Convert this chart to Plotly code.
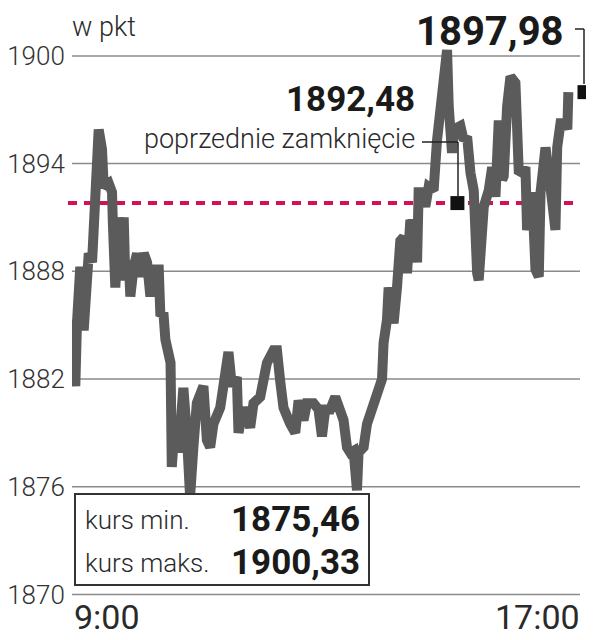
import plotly.graph_objects as go

# minutes after 9:00 and index value (points)
minutes = [0, 1, 3.2, 4.8, 8.0, 11.3, 12.6, 16.2, 19.4, 21.0, 22.6, 25.8, 29.0, 30.7, 35.5, 38.7,
           39.5, 41.9, 45.2, 48.4, 50.0, 51.6, 54.9, 56.4, 59.7, 62.9, 66.1, 69.4, 72.6, 75.8,
           77.4, 83.9, 85.5, 88.4, 90.3, 91.9, 95.3, 96.5, 99.7, 102.9, 107.7, 111.0, 114.2,
           117.4, 120.7, 127.1, 130.4, 133.6, 136.8, 143.3, 148.1, 151.3, 154.6, 159.4, 161.0,
           165.8, 172.3, 175.5, 182.0, 188.5, 194.9, 198.2, 201.3, 204.5, 211.0, 215.9, 219.1,
           223.9, 227.2, 233.6, 238.4, 241.7, 244.9, 249.7, 254.6, 259.4, 262.6, 265.9, 269.1,
           272.3, 275.6, 277.1, 282.0, 285.3, 290.1, 295.0, 299.8, 301.3, 304.6, 306.2, 311.0,
           314.3, 317.5, 320.7, 324.0, 327.2, 330.4, 333.7, 335.2, 338.5, 341.7, 344.9, 349.7,
           353.0, 356.2, 357.9, 362.7, 364.3, 367.5, 369.1, 375.6, 378.8, 382.1, 385.3, 388.5,
           391.8, 393.3, 398.2, 403.0, 406.3, 409.5, 412.7, 416.0, 417.5, 420.8, 424.0, 428.8,
           432.0, 435.3, 438.5, 440.1, 445.0, 448.2, 451.4, 453.1, 457.9, 461.1, 464.4, 467.5,
           469.2, 472.4, 477.2, 479.0, 480.0]
values = [1885.3, 1884.0, 1881.6, 1885.1, 1888.25, 1884.7, 1886.6, 1889.0, 1888.5, 1891.4,
          1894.2, 1895.9, 1894.8, 1892.7, 1892.9, 1892.4, 1890.7, 1887.1, 1891.0, 1888.6,
          1891.0, 1887.5, 1888.6, 1886.6, 1888.25, 1889.0, 1887.7, 1889.0, 1888.5, 1886.6,
          1888.1, 1888.1, 1885.5, 1885.7, 1884.2, 1883.8, 1882.9, 1877.1, 1879.7, 1877.9,
          1881.5, 1879.0, 1875.46, 1878.2, 1880.65, 1881.6, 1878.6, 1878.2, 1879.5, 1880.4,
          1882.7, 1883.5, 1881.6, 1882.1, 1879.0, 1880.4, 1879.3, 1880.65, 1881.0, 1882.9,
          1883.6, 1883.6, 1881.9, 1880.4, 1879.5, 1879.0, 1880.8, 1879.7, 1880.65, 1880.65,
          1880.3, 1878.8, 1880.3, 1880.3, 1881.0, 1880.1, 1879.7, 1878.2, 1877.9, 1878.0,
          1875.8, 1877.9, 1878.2, 1879.5, 1880.4, 1881.1, 1882.0, 1884.0, 1885.3, 1887.1,
          1885.1, 1887.1, 1889.7, 1889.9, 1887.9, 1890.85, 1890.5, 1888.5, 1892.4, 1892.4,
          1891.6, 1892.7, 1892.5, 1895.3, 1897.2, 1898.1, 1900.33, 1897.2, 1894.6, 1895.9,
          1896.1, 1895.3, 1895.5, 1893.5, 1892.5, 1887.9, 1887.5, 1891.6, 1892.5, 1893.8,
          1892.15, 1896.4, 1893.1, 1893.3, 1897.2, 1898.85, 1898.5, 1893.6, 1893.5, 1893.8,
          1890.3, 1892.4, 1888.1, 1887.7, 1892.4, 1894.9, 1893.5, 1891.0, 1890.3, 1894.9,
          1896.25, 1896.25, 1895.9, 1897.98]

y_ticks = [1870, 1876, 1882, 1888, 1894, 1900]
x_labels = ["9:00", "17:00"]
prev_close_level = 1891.8
prev_close_label = "1892,48"
last_label = "1897,98"
min_label = "1875,46"
max_label = "1900,33"
last_value = 1897.98
prev_marker_minute = 372.7
last_marker_minute = 495.6

# page body has an 8px margin: figure occupies page px 8..594 / 8..640
OFF = 8
W, H = 586, 632
ML, MR, MT, MB = 64, 0, 3, 42
X_MAX = 504.8
Y_RANGE = [1869.8, 1902.5]


def px(x):
    """page x pixel -> paper coordinate"""
    return (x - OFF - ML) / (W - ML - MR)


def py(y):
    """page y pixel -> paper coordinate"""
    return (H - MB - (y - OFF)) / (H - MT - MB)


LIGHT = "Roboto"
BOLD = "Roboto"
TXT = "#2a2a2a"

fig = go.Figure()
fig.add_trace(go.Scatter(x=minutes, y=values, mode="lines",
                         line=dict(color="#5b5b5b", width=10), hoverinfo="skip"))
fig.add_trace(go.Scatter(x=[prev_marker_minute, last_marker_minute],
                         y=[prev_close_level, last_value], mode="markers",
                         marker=dict(symbol="square", size=14, color="#111111", line=dict(width=0)),
                         cliponaxis=False, hoverinfo="skip"))

shapes = []
for v in y_ticks:
    shapes.append(dict(type="line", xref="paper", yref="y", x0=px(72), x1=px(580), y0=v, y1=v,
                       layer="below", line=dict(color="#8a8a8a", width=1.5)))
shapes += [
    dict(type="line", xref="paper", yref="y", x0=px(68), x1=px(580),
         y0=prev_close_level, y1=prev_close_level, layer="below",
         line=dict(color="#d3124f", width=4, dash="9px,7px")),
    # leader lines
    dict(type="line", xref="paper", yref="paper", x0=px(575), x1=px(584), y0=py(29), y1=py(29),
         line=dict(color="#222", width=1.5)),
    dict(type="line", xref="paper", yref="paper", x0=px(584), x1=px(584), y0=py(29), y1=py(84),
         line=dict(color="#222", width=1.5)),
    dict(type="line", xref="paper", yref="paper", x0=px(422), x1=px(458), y0=py(142), y1=py(142),
         line=dict(color="#222", width=1.5)),
    dict(type="line", xref="paper", yref="paper", x0=px(458), x1=px(458), y0=py(142), y1=py(198),
         line=dict(color="#222", width=1.5)),
    # min/max box
    dict(type="rect", xref="paper", yref="paper", x0=px(75), x1=px(369), y0=py(585), y1=py(494),
         fillcolor="white", line=dict(color="#333", width=2), layer="above"),
]

ann = []


def add_text(text, x, y, anchor, size, weight, family):
    ann.append(dict(text=text, xref="paper", yref="paper", x=px(x), y=py(y),
                    xanchor=anchor, yanchor="middle", showarrow=False,
                    font=dict(family=family, size=size, color=TXT if weight < 600 else "#1a1a1a",
                              weight=weight)))


add_text("w pkt", 70, 27, "left", 27, 300, LIGHT)
add_text(last_label, 566, 31, "right", 40, 700, BOLD)
add_text(prev_close_label, 417, 99, "right", 35, 700, BOLD)
add_text("poprzednie zamknięcie", 417, 139, "right", 27, 300, LIGHT)
add_text("kurs min.", 83, 520, "left", 26, 300, LIGHT)
add_text(min_label, 362, 519, "right", 35, 700, BOLD)
add_text("kurs maks.", 83, 563, "left", 26, 300, LIGHT)
add_text(max_label, 362, 562, "right", 35, 700, BOLD)
add_text(x_labels[0], 72, 617, "left", 34, 400, LIGHT)
add_text(x_labels[1], 582, 617, "right", 34, 400, LIGHT)

fig.update_layout(
    width=W, height=H, margin=dict(l=ML, r=MR, t=MT, b=MB, autoexpand=False),
    paper_bgcolor="white", plot_bgcolor="white", showlegend=False,
    shapes=shapes, annotations=ann,
    xaxis=dict(range=[0, X_MAX], showgrid=False, zeroline=False, showticklabels=False,
               showline=False, fixedrange=True, automargin=False),
    yaxis=dict(range=Y_RANGE, tickvals=y_ticks, ticktext=[str(v) for v in y_ticks],
               showgrid=False, zeroline=False, automargin=False,
               ticks="outside", ticklen=1, tickcolor="rgba(0,0,0,0)",
               tickfont=dict(family=LIGHT, size=26, color="#333", weight=300),
               showline=False, fixedrange=True),
)

fig.write_html("out.html")
